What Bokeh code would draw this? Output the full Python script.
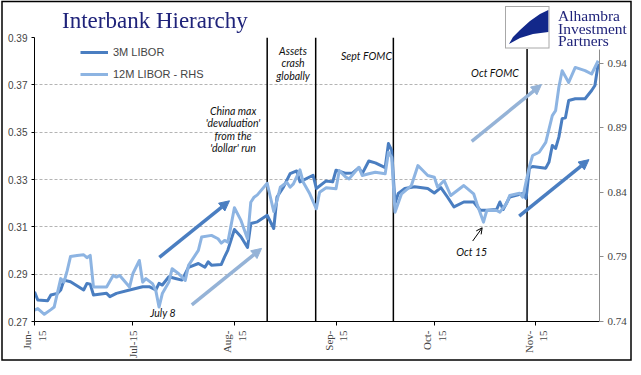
import math
from datetime import datetime, timedelta
from bokeh.plotting import figure
from bokeh.layouts import column
from bokeh.models import (Range1d, LinearAxis, FixedTicker, NumeralTickFormatter,
                          Label, Arrow, NormalHead, OpenHead, Legend, LegendItem, Div)
from bokeh.embed import file_html
from bokeh.resources import INLINE

START = datetime(2015, 6, 1)
EPOCH = datetime(1970, 1, 1)


def ms(day):
    return int((START + timedelta(days=day) - EPOCH).total_seconds() * 1000)


# ---- data (day offsets from 1 Jun 2015) ----
days_3m = [0, 1, 4, 5, 7, 8, 9, 11, 15, 16, 17, 18, 22, 23, 25, 29, 33, 35, 37, 38,
           39, 41, 43, 45, 47, 50, 52, 53, 54, 57, 58, 59, 61, 63, 65, 66, 68, 71, 73, 74,
           76, 78, 80, 81, 85, 86, 89, 91, 92, 95, 97, 99, 100, 102, 104, 107, 108, 109, 110, 111,
           113, 116, 120, 122, 124, 126, 128, 131, 134, 136, 138, 141, 142, 143, 145, 147, 149, 150, 151, 152,
           156, 157, 158, 159, 160, 161, 162, 163, 165, 168, 170, 171, 172]
libor_3m = [0.2826, 0.2791, 0.2788, 0.2812, 0.2819, 0.2833, 0.2875, 0.2868, 0.2833, 0.2861,
            0.2858, 0.2812, 0.2819, 0.2805, 0.2819, 0.2833, 0.2847, 0.2847, 0.2833, 0.2861,
            0.2854, 0.2889, 0.2882, 0.2875, 0.2929, 0.2945, 0.2929, 0.2952, 0.2938, 0.2941,
            0.2973, 0.3002, 0.3089, 0.3058, 0.3013, 0.3114, 0.3121, 0.3149, 0.3093, 0.3226,
            0.3269, 0.3325, 0.3336, 0.3290, 0.3318, 0.3262, 0.3294, 0.3290, 0.3339, 0.3326,
            0.3327, 0.3350, 0.3325, 0.3378, 0.3370, 0.3350, 0.3452, 0.3423, 0.3199, 0.3241,
            0.3262, 0.3269, 0.3262, 0.3243, 0.3266, 0.3226, 0.3184, 0.3205, 0.3205, 0.3170,
            0.3170, 0.3173, 0.3205, 0.3173, 0.3226, 0.3233, 0.3241, 0.3220, 0.3348, 0.3355,
            0.3348, 0.3374, 0.3444, 0.3431, 0.3479, 0.3557, 0.3561, 0.3634, 0.3641, 0.3641,
            0.3676, 0.3697, 0.3789]

days_12m = [0, 1, 3, 5, 6, 8, 9, 10, 11, 13, 15, 16, 17, 18, 22, 24, 25, 26, 29, 30,
            32, 33, 34, 36, 37, 38, 39, 41, 42, 44, 46, 47, 50, 51, 54, 56, 57, 58, 59, 61,
            63, 65, 66, 67, 68, 71, 73, 74, 75, 77, 78, 79, 81, 82, 84, 86, 87, 89, 92, 93,
            95, 96, 99, 100, 102, 104, 107, 108, 109, 110, 112, 115, 117, 120, 122, 123, 125, 127, 129, 131,
            134, 135, 137, 138, 141, 142, 144, 145, 148, 149, 151, 152, 154, 156, 158, 159, 160, 161, 163, 165,
            168, 170, 172]
libor_12m = [0.7487, 0.7500, 0.7456, 0.7492, 0.7512, 0.7732, 0.7705, 0.7796, 0.7904, 0.7912,
             0.7917, 0.7894, 0.7912, 0.7667, 0.7667, 0.7757, 0.7744, 0.7757, 0.7667, 0.7770,
             0.7873, 0.7705, 0.7732, 0.7693, 0.7641, 0.7512, 0.7616, 0.7705, 0.7809, 0.7770,
             0.7719, 0.7835, 0.7951, 0.8054, 0.8067, 0.8041, 0.8007, 0.8028, 0.8015, 0.8281,
             0.8183, 0.8041, 0.8324, 0.8363, 0.8381, 0.8471, 0.8252, 0.8337, 0.8440, 0.8479,
             0.8440, 0.8466, 0.8575, 0.8479, 0.8389, 0.8273, 0.8402, 0.8436, 0.8428, 0.8569,
             0.8518, 0.8505, 0.8595, 0.8531, 0.8544, 0.8556, 0.8544, 0.8711, 0.8672, 0.8247,
             0.8389, 0.8453, 0.8608, 0.8531, 0.8518, 0.8440, 0.8492, 0.8376, 0.8415, 0.8453,
             0.8389, 0.8312, 0.8170, 0.8260, 0.8260, 0.8247, 0.8312, 0.8376, 0.8394, 0.8363,
             0.8600, 0.8686, 0.8711, 0.8788, 0.8995, 0.9033, 0.9214, 0.9343, 0.9252, 0.9368,
             0.9343, 0.9317, 0.9420]

tick_days = [0, 30, 61, 92, 122, 153]
tick_labels = ["Jun-\n15", "Jul-15", "Aug-\n15", "Sep-\n15", "Oct-\n15", "Nov-\n15"]
left_ticks = [0.27, 0.29, 0.31, 0.33, 0.35, 0.37, 0.39]
right_ticks = [0.74, 0.79, 0.84, 0.89, 0.94]

event_days = [71.0, 85.8, 109.5, 150.3]
event_tops = [0.39, 0.39, 0.39, 0.3853]

TITLE = "Interbank Hierarchy"
LOGO_LINES = ["Alhambra", "Investment", "Partners"]

DARK = "#4a7ec1"
LIGHT = "#8db4e2"
ARROW_LIGHT = "#95b3d7"
NAVY = "#1f237a"
LOGO_BLUE = "#12288a"

SERIF = "font-family:'Liberation Serif',serif;font-weight:normal;font-style:normal;"

# ---------------- header: title, logo and outer frame (page-pixel overlay) ----------------
logo_poly = "548.3,10 540,14 530,21 520,30 513,37 509,44 520,38 533,34 548.3,32"
logo_texts = "".join(
    f'<text x="558" y="{y}" style="{SERIF}font-size:15.5px;fill:{NAVY};">{t}</text>'
    for y, t in zip([20.5, 33.5, 46], LOGO_LINES))
overlay = (
    '<svg xmlns="http://www.w3.org/2000/svg" width="641" height="375" '
    'style="position:fixed;left:0;top:0;z-index:1000;pointer-events:none;">'
    f'<text x="62" y="28" style="{SERIF}font-size:23px;fill:{NAVY};">{TITLE}</text>'
    '<rect x="505" y="2" width="129" height="47" fill="white"/>'
    '<rect x="505.5" y="6.5" width="43.5" height="41.5" fill="white" stroke="#a8a8a8" stroke-width="1"/>'
    f'<polygon points="{logo_poly}" fill="{LOGO_BLUE}"/>'
    f'{logo_texts}'
    '<rect x="2" y="1.5" width="629" height="358.5" fill="none" stroke="black" stroke-width="1.5"/>'
    '</svg>'
)
header = Div(text=overlay, width=631, height=29, margin=0)

# ---------------- main chart ----------------
p = figure(frame_width=565, frame_height=284, x_axis_type="datetime",
           x_range=Range1d(ms(0), ms(172.4)), y_range=Range1d(0.27, 0.39),
           output_backend="svg", toolbar_location=None,
           min_border_left=34, min_border_right=32, min_border_top=8, min_border_bottom=0,
           background_fill_color="white", border_fill_color="white",
           outline_line_color=None, margin=0)

p.xgrid.visible = False
p.ygrid.ticker = FixedTicker(ticks=left_ticks[1:])
p.ygrid.grid_line_color = "#b4b4b4"
p.ygrid.grid_line_dash = "3 2"

p.yaxis.ticker = FixedTicker(ticks=left_ticks)
p.yaxis.formatter = NumeralTickFormatter(format="0.00")
p.yaxis.major_label_text_font = "Liberation Sans"
p.yaxis.major_label_text_font_size = "10px"
p.yaxis.axis_line_color = "black"
p.yaxis.major_tick_line_color = "black"
p.yaxis.major_tick_out = 3
p.yaxis.major_tick_in = 0
p.yaxis.minor_tick_line_color = None
p.yaxis.major_label_standoff = 4

p.xaxis.ticker = FixedTicker(ticks=[ms(d) for d in tick_days])
p.xaxis.major_label_overrides = {ms(d): lab for d, lab in zip(tick_days, tick_labels)}
p.xaxis.major_label_orientation = math.pi / 2
p.xaxis.major_label_text_font = "Liberation Serif"
p.xaxis.major_label_text_font_size = "11px"
p.xaxis.axis_line_color = "black"
p.xaxis.major_tick_line_color = "black"
p.xaxis.major_tick_out = 4
p.xaxis.major_tick_in = 0
p.xaxis.minor_tick_line_color = None
p.xaxis.major_label_standoff = 5

p.extra_y_ranges = {"rhs": Range1d(0.74, 0.96)}
rax = LinearAxis(y_range_name="rhs", ticker=FixedTicker(ticks=right_ticks),
                 formatter=NumeralTickFormatter(format="0.00"), bounds=(0.74, 0.9505),
                 axis_line_color="#8c8c8c", major_tick_line_color="#8c8c8c",
                 major_tick_out=4, major_tick_in=0, minor_tick_line_color=None,
                 major_label_text_font="Liberation Serif", major_label_text_font_size="11px",
                 major_label_standoff=4)
p.add_layout(rax, "right")

# event lines
p.segment(x0=[ms(d) for d in event_days], y0=[0.27] * len(event_days),
          x1=[ms(d) for d in event_days], y1=event_tops,
          line_color="black", line_width=1.5)

# series
r3 = p.line(x=[ms(d) for d in days_3m], y=libor_3m, line_color=DARK, line_width=3,
            line_join="round")
r12 = p.line(x=[ms(d) for d in days_12m], y=libor_12m, line_color=LIGHT, line_width=3,
             line_join="round", y_range_name="rhs")

legend = Legend(items=[LegendItem(label="3M LIBOR", renderers=[r3]),
                       LegendItem(label="12M LIBOR - RHS", renderers=[r12])],
                location=(46, 238), orientation="vertical", glyph_width=28,
                glyph_height=18, label_height=18, spacing=4, padding=0, margin=0,
                label_standoff=5, label_text_font="Liberation Sans",
                label_text_font_size="11px", background_fill_alpha=0,
                border_line_alpha=0)
p.add_layout(legend)

# trend arrows
arrows = [
    (38.1, 0.2971, 59.5, 0.3210, DARK),
    (48.0, 0.2770, 69.3, 0.3009, ARROW_LIGHT),
    (133.4, 0.3461, 154.7, 0.3701, ARROW_LIGHT),
    (147.9, 0.3145, 169.2, 0.3384, DARK),
]
for x0, y0, x1, y1, c in arrows:
    p.add_layout(Arrow(x_start=ms(x0), y_start=y0, x_end=ms(x1), y_end=y1,
                       line_color=c, line_width=3.5,
                       end=NormalHead(size=10, fill_color=c, line_color=c)))
p.add_layout(Arrow(x_start=ms(133.7), y_start=0.3040, x_end=ms(136.6), y_end=0.3096,
                   line_color="black", line_width=1,
                   end=OpenHead(size=6, line_color="black", line_width=1)))

notes = [
    (78.9, 0.3791, "Assets\ncrash\nglobally"),
    (101.3, 0.3820, "Sept FOMC"),
    (140.5, 0.3749, "Oct FOMC"),
    (60.6, 0.3511, "China max\n'devaluation'\nfrom the\n'dollar' run"),
    (39.2, 0.2734, "July 8"),
    (133.4, 0.2992, "Oct 15"),
]
for x, y, t in notes:
    p.add_layout(Label(x=ms(x), y=y, text=t, text_font="Lato", text_font_size="10.5px",
                       text_font_style="italic", text_align="center",
                       text_baseline="middle", text_line_height=1.05,
                       text_color="#111111"))

page = column(header, p, spacing=0)

open("out.html", "w").write(file_html(page, INLINE))
